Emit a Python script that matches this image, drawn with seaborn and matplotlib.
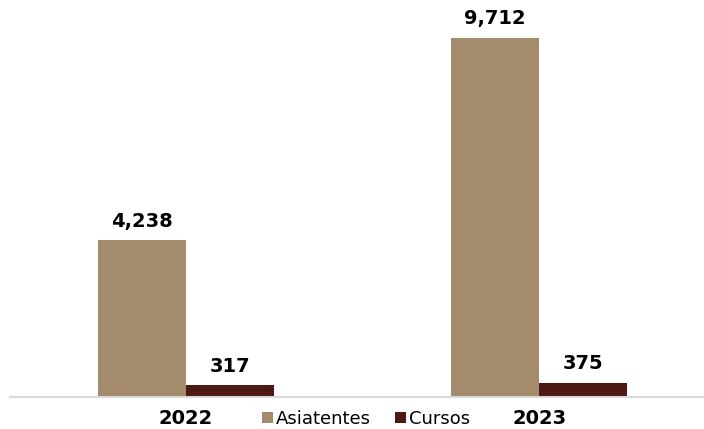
import numpy as np
import pandas as pd
import matplotlib.pyplot as plt
import seaborn as sns

years = ['2022', '2023']
asistentes = [4238, 9712]
cursos = [317, 375]
series = ['Asiatentes', 'Cursos']
colors = ['#A38B6B', '#4E1914']

sns.set_style('white')
plt.rcParams['font.family'] = ['DejaVu Sans']

df = pd.DataFrame({
	'year': years * 2,
	'value': asistentes + cursos,
	'serie': [series[0]] * len(years) + [series[1]] * len(years),
})

fig = plt.figure(figsize=(7.04, 4.29), dpi=100)
ax = fig.add_axes([9.5 / 704, 32 / 429, 694.5 / 704, 397 / 429])
sns.barplot(data=df, x='year', y='value', hue='serie', palette=colors,
	width=0.5, saturation=1, linewidth=0, ax=ax, legend=True)

for cont in ax.containers:
	ax.bar_label(cont, labels=[f'{v:,.0f}' for v in cont.datavalues], padding=7,
		fontsize=14, fontweight='bold', color='black')

ax.set_xlim(-0.5, 1.467)
ax.set_ylim(0, 10739)
ax.set_xlabel('')
ax.set_ylabel('')
ax.set_yticks([])
sns.despine(ax=ax, left=True, right=True, top=True)
ax.spines['bottom'].set_color('#D9D9D9')
ax.spines['bottom'].set_linewidth(1.5)
ax.tick_params(axis='x', length=0, pad=9, labelsize=14, labelcolor='black')
for t in ax.get_xticklabels():
	t.set_fontweight('bold')

ax.legend(loc='center', bbox_to_anchor=(366 / 704, 10 / 429), bbox_transform=fig.transFigure,
	ncol=2, frameon=False, fontsize=13, handlelength=0.6, handleheight=0.6,
	handletextpad=0.2, columnspacing=1.3, borderpad=0, labelcolor='black')

fig.savefig('out.png', dpi=100)
